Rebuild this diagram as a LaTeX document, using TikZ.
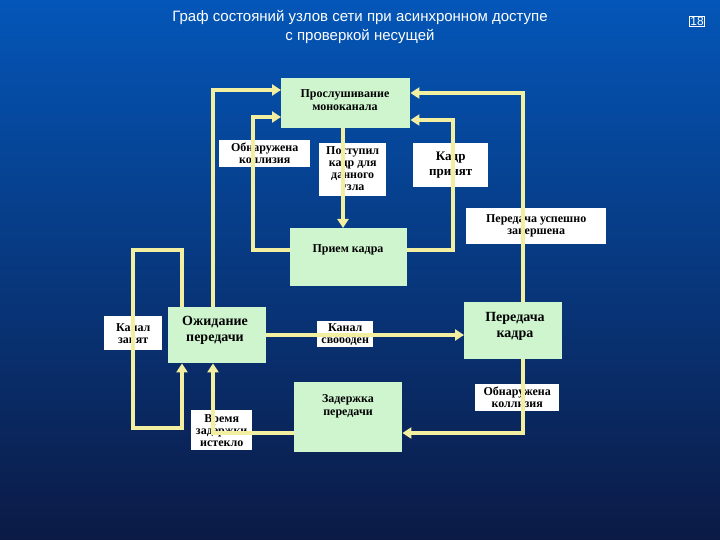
\documentclass[tikz,border=0pt]{standalone}
\usepackage{fontspec}
\setmainfont{Liberation Serif}
\newfontfamily\titlefont{Liberation Sans}
\usetikzlibrary{arrows.meta}
\definecolor{bgtop}{HTML}{0456B8}
\definecolor{bgbot}{HTML}{0B1A45}
\definecolor{boxg}{HTML}{CFF5CF}
\definecolor{yel}{HTML}{F2EFA0}
\begin{document}
\begin{tikzpicture}[x=1pt,y=-1pt,
  state/.style={draw=none,fill=boxg,anchor=north west,inner sep=0pt,align=center,font=\fontsize{12}{13}\selectfont\bfseries},
  lab/.style={draw=none,fill=white,anchor=north west,inner sep=0pt,align=center,font=\fontsize{12}{12}\selectfont\bfseries},
  conn/.style={draw=yel,line width=4pt,-{Triangle[length=9pt,width=11pt]}},
  plain/.style={draw=yel,line width=4pt}]
\shade[top color=bgtop,bottom color=bgbot] (0,0) rectangle (720,540);
\useasboundingbox (0,0) rectangle (720,540);
\node[text=white,font=\titlefont\fontsize{15}{19}\selectfont,align=center] (title) at (360,27) {Граф состояний узлов сети при асинхронном доступе\\с проверкой несущей};
\node[draw=white,text=white,font=\titlefont\fontsize{12}{12}\selectfont,inner sep=1pt] (pg) at (697,21) {18};
% states
\node[state,minimum width=129,minimum height=50] (listen) at (281,78) {};
\node[font=\fontsize{12}{13}\selectfont\bfseries,align=center] (listenT) at (345,100) {Прослушивание\\моноканала};
\node[state,minimum width=117,minimum height=58] (recv) at (290,228) {};
\node[font=\fontsize{12}{13}\selectfont\bfseries] (recvT) at (348,250) {Прием кадра};
\node[state,minimum width=98,minimum height=56] (wait) at (168,307) {};
\node[font=\fontsize{14}{16}\selectfont\bfseries,align=center] (waitT) at (215,330) {Ожидание\\передачи};
\node[state,minimum width=98,minimum height=57] (send) at (464,302) {};
\node[font=\fontsize{14}{16}\selectfont\bfseries,align=center] (sendT) at (515,326) {Передача\\кадра};
\node[state,minimum width=108,minimum height=70] (delay) at (294,382) {};
\node[font=\fontsize{12}{13}\selectfont\bfseries,align=center] (delayT) at (348,406) {Задержка\\передачи};
% connectors
\coordinate (c1a) at (213,90); \coordinate (c2a) at (253,250); \coordinate (c2b) at (253,117);
\coordinate (c4a) at (453,250); \coordinate (c4b) at (453,120);
\coordinate (c5a) at (523,93); \coordinate (c7a) at (523,433);
\coordinate (c8a) at (213,433);
\coordinate (c9a) at (182,250); \coordinate (c9b) at (133,250); \coordinate (c9c) at (133,428); \coordinate (c9d) at (182,428);
% labels (under lines)
\node[lab,minimum width=91,minimum height=27] (l1) at (219,140) {Обнаружена\\коллизия};
\node[lab,minimum width=67,minimum height=53] (l2) at (319,143) {Поступил\\кадр для\\данного\\узла};
\node[lab,minimum width=75,minimum height=44,font=\fontsize{13}{15}\selectfont\bfseries] (l3) at (413,143) {Кадр\\принят};
\node[lab,minimum width=140,minimum height=36] (l4) at (466,208) {Передача успешно\\завершена};
\node[lab,minimum width=58,minimum height=34] (l5) at (104,316) {Канал\\занят};
\node[lab,minimum width=56,minimum height=26] (l6) at (317,321) {Канал\\свободен};
\node[lab,minimum width=84,minimum height=27] (l7) at (475,384) {Обнаружена\\коллизия};
\node[lab,minimum width=61,minimum height=40] (l8) at (191,410) {Время\\задержки\\истекло};
\draw[conn] (wait.north west -| c1a) -- (c1a) -- (listen.north west |- c1a);
\draw[conn] (recv.west |- c2a) -- (c2a) -- (c2b) -- (listen.west |- c2b);
\draw[conn] (listen.south -| 343,0) -- (recv.north -| 343,0);
\draw[conn] (recv.east |- c4a) -- (c4a) -- (c4b) -- (listen.east |- c4b);
\draw[conn] (send.north -| c5a) -- (c5a) -- (listen.east |- c5a);
\draw[conn] (wait.east |- 0,335) -- (send.west |- 0,335);
\draw[conn] (send.south -| c7a) -- (c7a) -- (delay.east |- c7a);
\draw[conn] (delay.west |- c8a) -- (c8a) -- (wait.south -| c8a);
\draw[conn] (wait.north -| c9a) -- (c9a) -- (c9b) -- (c9c) -- (c9d) -- (wait.south -| c9d);
\end{tikzpicture}
\end{document}
